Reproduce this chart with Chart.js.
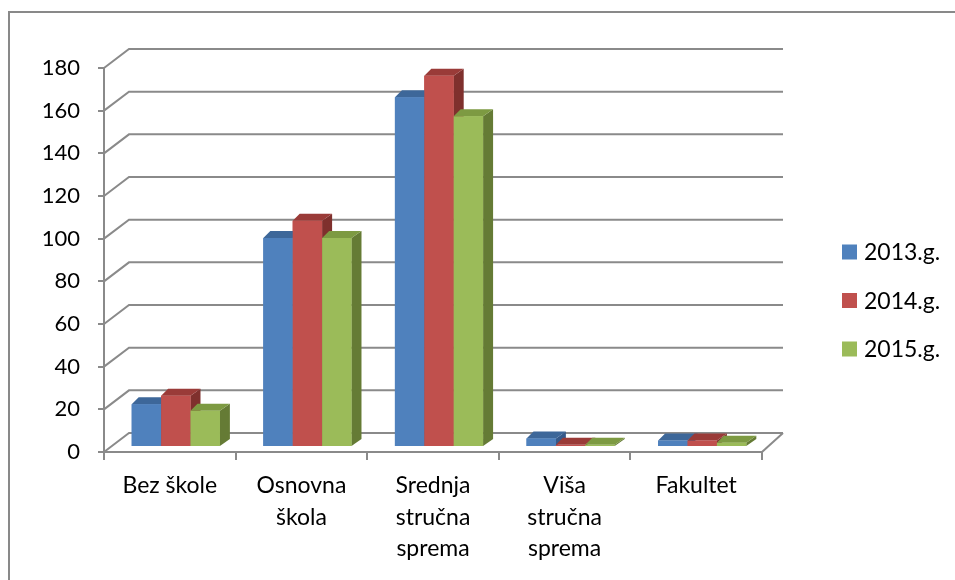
<!DOCTYPE html>
<html>
<head>
<meta charset="utf-8">
<script src="https://cdn.jsdelivr.net/npm/chart.js@4.4.0/dist/chart.umd.min.js"></script>
<style>
  html, body { margin: 0; padding: 0; background: #fff; }
  #wrap { position: relative; width: 955px; height: 580px; overflow: hidden; }
  #frame { position: absolute; left: 8px; top: 11px; width: 1000px; height: 620px; border: 2px solid #898989; }
  #eduChart { position: absolute; left: 0; top: 0; }
</style>
</head>
<body>
<div id="wrap">
  <div id="frame"></div>
  <canvas id="eduChart" width="955" height="580"></canvas>
</div>
<script>
"use strict";

// data
const categories = [["Bez škole"], ["Osnovna", "škola"], ["Srednja", "stručna", "sprema"], ["Viša", "stručna", "sprema"], ["Fakultet"]];
const seriesNames = ["2013.g.", "2014.g.", "2015.g."];
const values2013 = [20, 98, 164, 4, 3];
const values2014 = [24, 106, 174, 1, 3];
const values2015 = [17, 98, 155, 1, 2];
const yTicks = [0, 20, 40, 60, 80, 100, 120, 140, 160, 180];

// styling
const FONT = "Lato, 'Open Sans', sans-serif";
const GRID = "#8a8a8a";
const frontColors = ["#4F81BD", "#C0504D", "#9BBB59"];
const topColors = ["#3D6799", "#9A3B38", "#7D9A42"];
const sideColors = ["#35598A", "#7F302D", "#657B35"];

// fake 3D depth (pixels)
const WALL = { dx: 25, dy: -19, rightDx: 21 };
const BAR_SHIFT = { dx: 6, dy: -5 };
const BAR_DEPTH = { dxLeft: 7, dxRight: 10, dy: -7 };

// back wall, floor and the 3D faces of the bars
const bars3d = {
  id: "bars3d",
  beforeDatasetsDraw(chart) {
    const { ctx, chartArea, scales: { y } } = chart;
    ctx.save();
    ctx.strokeStyle = GRID;
    ctx.lineWidth = 2;
    yTicks.forEach(v => {
      const py = y.getPixelForValue(v);
      ctx.beginPath();
      ctx.moveTo(chartArea.left, py);
      ctx.lineTo(chartArea.left + WALL.dx, py + WALL.dy);
      ctx.lineTo(chartArea.right + WALL.rightDx, py + WALL.dy);
      ctx.stroke();
    });
    // right edge of the floor
    const p0 = y.getPixelForValue(0);
    ctx.beginPath();
    ctx.moveTo(chartArea.right, p0);
    ctx.lineTo(chartArea.right + WALL.rightDx, p0 + WALL.dy);
    ctx.stroke();
    ctx.restore();

    // push the bars back into the depth
    ctx.save();
    ctx.translate(BAR_SHIFT.dx, BAR_SHIFT.dy);
  },
  afterDatasetsDraw(chart) {
    const ctx = chart.ctx;
    // redraw in index order so each bar hides the side of its left neighbour
    chart.data.datasets.forEach((ds, i) => {
      const meta = chart.getDatasetMeta(i);
      meta.data.forEach(el => {
        const { x, y, base, width } = el.getProps(["x", "y", "base", "width"], true);
        const l = x - width / 2, r = x + width / 2;
        // side
        ctx.fillStyle = sideColors[i];
        ctx.beginPath();
        ctx.moveTo(r, y);
        ctx.lineTo(r + BAR_DEPTH.dxRight, y + BAR_DEPTH.dy);
        ctx.lineTo(r + BAR_DEPTH.dxRight, base + BAR_DEPTH.dy);
        ctx.lineTo(r, base);
        ctx.closePath();
        ctx.fill();
        // top
        ctx.fillStyle = topColors[i];
        ctx.beginPath();
        ctx.moveTo(l, y);
        ctx.lineTo(l + BAR_DEPTH.dxLeft, y + BAR_DEPTH.dy);
        ctx.lineTo(r + BAR_DEPTH.dxRight, y + BAR_DEPTH.dy);
        ctx.lineTo(r, y);
        ctx.closePath();
        ctx.fill();
        // front
        el.draw(ctx);
      });
    });
    ctx.restore();
  }
};

// legend on the right, Excel style
const sideLegend = {
  id: "sideLegend",
  afterDraw(chart) {
    const { ctx, chartArea } = chart;
    const x0 = chartArea.right + 80;
    const y0 = 252;
    const step = 48.5;
    ctx.save();
    ctx.font = "23px " + FONT;
    ctx.textBaseline = "middle";
    ctx.textAlign = "left";
    chart.data.datasets.forEach((ds, i) => {
      const cy = y0 + i * step;
      ctx.fillStyle = ds.backgroundColor;
      ctx.fillRect(x0, cy - 7.5, 15, 15);
      ctx.fillStyle = "#000";
      ctx.fillText(ds.label, x0 + 22, cy + 1);
    });
    ctx.restore();
  }
};

const ctx = document.getElementById("eduChart").getContext("2d");
window.eduChart = new Chart(ctx, {
  type: "bar",
  data: {
    labels: categories,
    datasets: [
      { label: seriesNames[0], data: values2013, backgroundColor: frontColors[0] },
      { label: seriesNames[1], data: values2014, backgroundColor: frontColors[1] },
      { label: seriesNames[2], data: values2015, backgroundColor: frontColors[2] }
    ]
  },
  options: {
    responsive: false,
    animation: false,
    events: [],
    datasets: { bar: { categoryPercentage: 0.67, barPercentage: 1.0, borderWidth: 0, clip: false } },
    layout: { padding: { left: 10, top: 68, right: 193, bottom: 0 } },
    plugins: { legend: { display: false }, tooltip: { enabled: false }, title: { display: false } },
    scales: {
      x: {
        type: "category",
        offset: true,
        grid: { offset: true, drawOnChartArea: false, drawTicks: true, tickLength: 8, color: GRID, lineWidth: 2 },
        border: { display: true, color: GRID, width: 2 },
        ticks: { color: "#000", font: { family: FONT, size: 23, lineHeight: 1.37 }, padding: 10, maxRotation: 0, autoSkip: false },
        afterFit: s => { s.height = 128; }
      },
      y: {
        min: 0,
        max: 180,
        grid: { drawOnChartArea: false, drawTicks: true, tickLength: 6, color: GRID, lineWidth: 2 },
        border: { display: true, color: GRID, width: 2 },
        ticks: { stepSize: 20, color: "#000", font: { family: FONT, size: 22 }, padding: 18 },
        afterFit: s => { s.width = 94; }
      }
    }
  },
  plugins: [bars3d, sideLegend]
});
</script>
</body>
</html>
